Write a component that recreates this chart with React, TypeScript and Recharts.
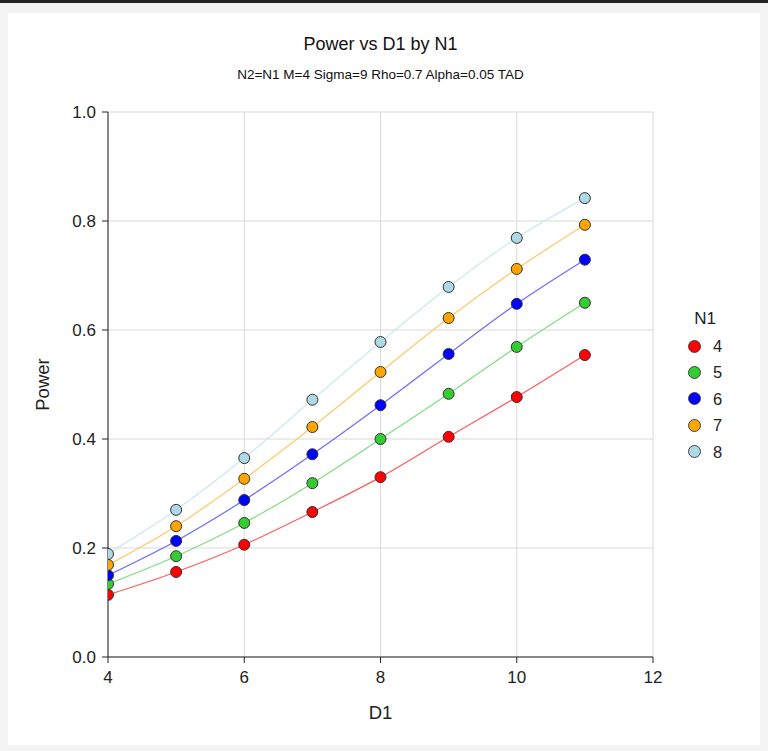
import { LineChart, Line, XAxis, YAxis, CartesianGrid, Label } from "recharts";

const d1Values = [4, 5, 6, 7, 8, 9, 10, 11];
const powerN4 = [0.114, 0.156, 0.206, 0.266, 0.330, 0.404, 0.477, 0.554];
const powerN5 = [0.134, 0.185, 0.246, 0.319, 0.400, 0.483, 0.569, 0.650];
const powerN6 = [0.150, 0.213, 0.288, 0.372, 0.462, 0.556, 0.648, 0.729];
const powerN7 = [0.169, 0.240, 0.327, 0.422, 0.523, 0.622, 0.712, 0.793];
const powerN8 = [0.189, 0.270, 0.365, 0.472, 0.578, 0.679, 0.769, 0.842];
const xTicks = [4, 6, 8, 10, 12];
const yTicks = [0, 0.2, 0.4, 0.6, 0.8, 1.0];

const series = [
  { key: "n4", name: "4", values: powerN4, dot: "#ff0000", line: "#ff5c5c" },
  { key: "n5", name: "5", values: powerN5, dot: "#33cc33", line: "#7fdc7f" },
  { key: "n6", name: "6", values: powerN6, dot: "#0000ff", line: "#6b6bff" },
  { key: "n7", name: "7", values: powerN7, dot: "#ffa500", line: "#ffc766" },
  { key: "n8", name: "8", values: powerN8, dot: "#add8e6", line: "#cce7ef" },
];

const data = d1Values.map((d1, i) => {
  const row: Record<string, number> = { d1 };
  series.forEach((s) => (row[s.key] = s.values[i]));
  return row;
});

const font = '"Liberation Sans", Arial, sans-serif';

// legend sits outside the plot, to the right
function LegendBox() {
  return (
    <div style={{ position: "absolute", left: 0, top: 0, fontFamily: font, color: "#222" }}>
      <div style={{ position: "absolute", left: 690, top: 310, width: 30, textAlign: "center", fontSize: 17, lineHeight: "17px" }}>N1</div>
      {series.map((s, i) => (
        <div key={s.key} style={{ position: "absolute", left: 688, top: 346 + i * 26.4 - 8, height: 16, display: "flex", alignItems: "center" }}>
          <span
            style={{
              width: 11,
              height: 11,
              borderRadius: "50%",
              background: s.dot,
              border: "1px solid #444",
              marginRight: 12,
            }}
          />
          <span style={{ fontSize: 16.5, lineHeight: "16px" }}>{s.name}</span>
        </div>
      ))}
    </div>
  );
}

export default function App() {
  return (
    <div style={{ position: "relative", width: 768, height: 751, background: "#f3f3f3", fontFamily: font }}>
      <style>{"body{margin:0}"}</style>
      <div style={{ position: "absolute", left: 0, top: 0, width: 768, height: 3, background: "#222" }} />
      <div style={{ position: "absolute", left: 8, top: 13, width: 752, height: 732, background: "#fff" }} />
      <div style={{ position: "absolute", left: 108, width: 545, top: 35, lineHeight: "18px", textAlign: "center", fontSize: 18, color: "#111" }}>
        Power vs D1 by N1
      </div>
      <div style={{ position: "absolute", left: 108, width: 545, top: 68.4, lineHeight: "14px", textAlign: "center", fontSize: 13.5, color: "#111" }}>
        N2=N1 M=4 Sigma=9 Rho=0.7 Alpha=0.05 TAD
      </div>
      <div style={{ position: "absolute", left: 0, top: 0 }}>
        <LineChart width={768} height={751} data={data} margin={{ top: 112, right: 115, bottom: 64, left: 48 }}>
          <CartesianGrid stroke="#d9d9d9" />
          <XAxis
            dataKey="d1"
            type="number"
            domain={[4, 12]}
            ticks={xTicks}
            allowDataOverflow
            height={30}
            axisLine={{ stroke: "#666", strokeWidth: 1.5 }}
            tickLine={{ stroke: "#222" }}
            tickSize={6}
            tickMargin={8}
            tick={{ fill: "#222", fontSize: 17, fontFamily: font }}
          >
            <Label value="D1" position="bottom" offset={19} style={{ fill: "#222", fontSize: 18.5, fontFamily: font }} />
          </XAxis>
          <YAxis
            type="number"
            domain={[0, 1]}
            ticks={yTicks}
            width={60}
            stroke="#222"
            tickSize={6}
            tickMargin={6}
            tickFormatter={(v: number) => v.toFixed(1)}
            tick={{ fill: "#222", fontSize: 17, fontFamily: font }}
          >
            <Label value="Power" angle={-90} position="insideLeft" offset={-6} style={{ fill: "#222", fontSize: 18.5, fontFamily: font, textAnchor: "middle" }} />
          </YAxis>
          {series.map((s) => (
            <Line
              key={s.key}
              dataKey={s.key}
              name={s.name}
              type="monotone"
              stroke={s.line}
              strokeWidth={1.2}
              dot={{ r: 5.5, fill: s.dot, stroke: "#333", strokeWidth: 1 }}
              activeDot={false}
              isAnimationActive={false}
            />
          ))}
        </LineChart>
      </div>
      <LegendBox />
    </div>
  );
}
